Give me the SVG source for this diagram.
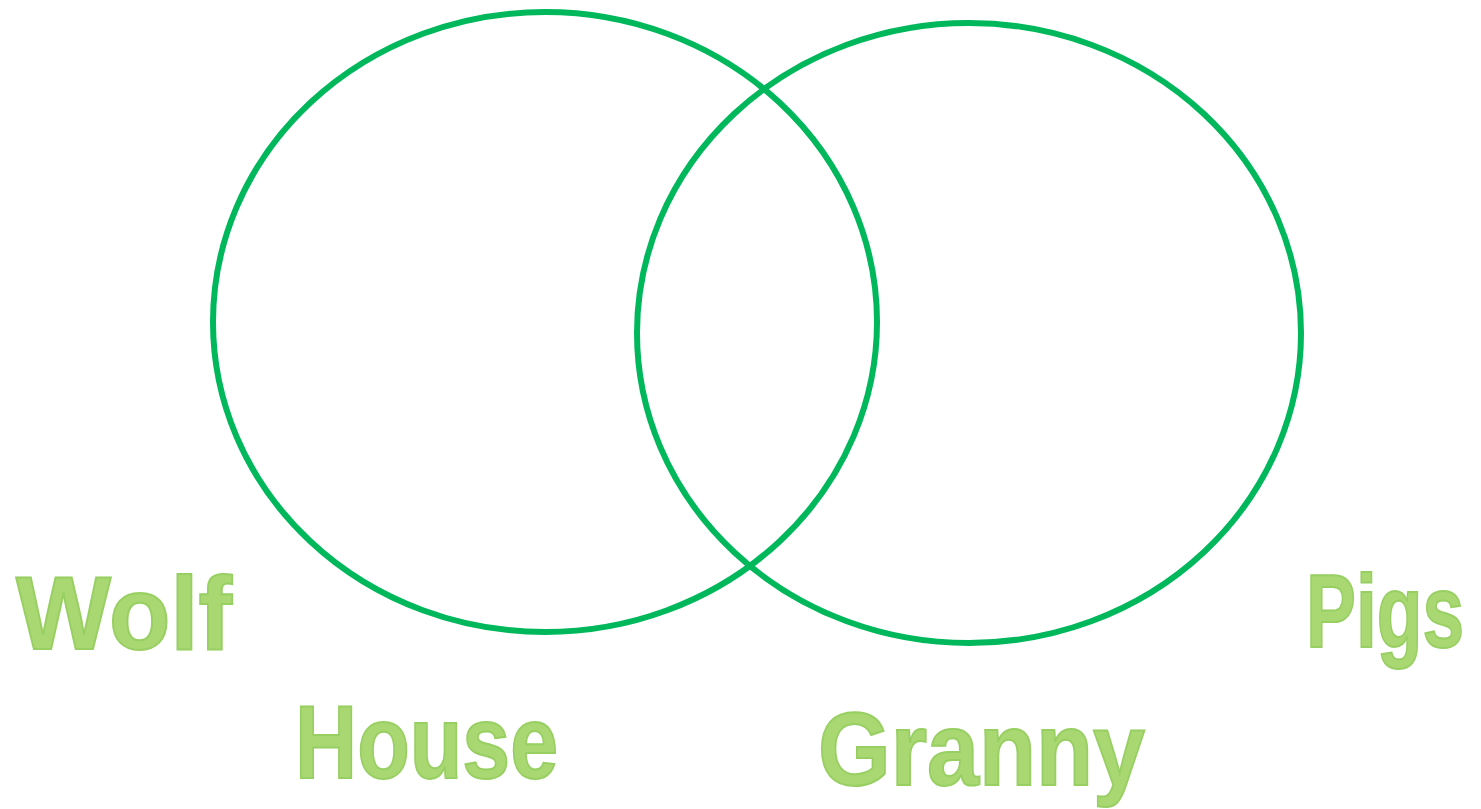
<svg xmlns="http://www.w3.org/2000/svg" width="1481" height="809" viewBox="0 0 1481 809">
<style>
.set{fill:none;stroke:#00b85c;stroke-width:6}
.lbl{font-family:"Liberation Sans",Arial,sans-serif;font-weight:bold;font-size:104px;fill:#a9d872;stroke:#98cf62;stroke-width:2}
</style>
<rect width="1481" height="809" fill="#ffffff"/>
<g id="set-left"><ellipse class="set" cx="545" cy="322" rx="332" ry="310"/></g>
<g id="set-right"><ellipse class="set" cx="969" cy="333" rx="332" ry="310"/></g>
<g id="label-wolf"><text class="lbl" x="16" y="649" textLength="216" lengthAdjust="spacingAndGlyphs">Wolf</text></g>
<g id="label-house"><text class="lbl" x="295" y="778" textLength="263" lengthAdjust="spacingAndGlyphs">House</text></g>
<g id="label-granny"><text class="lbl" x="818" y="785" textLength="327" lengthAdjust="spacingAndGlyphs">Granny</text></g>
<g id="label-pigs"><text class="lbl" transform="translate(1306,647) scale(0.72,1)" x="0" y="0">Pigs</text></g>
<g id="connectors"></g>
</svg>
